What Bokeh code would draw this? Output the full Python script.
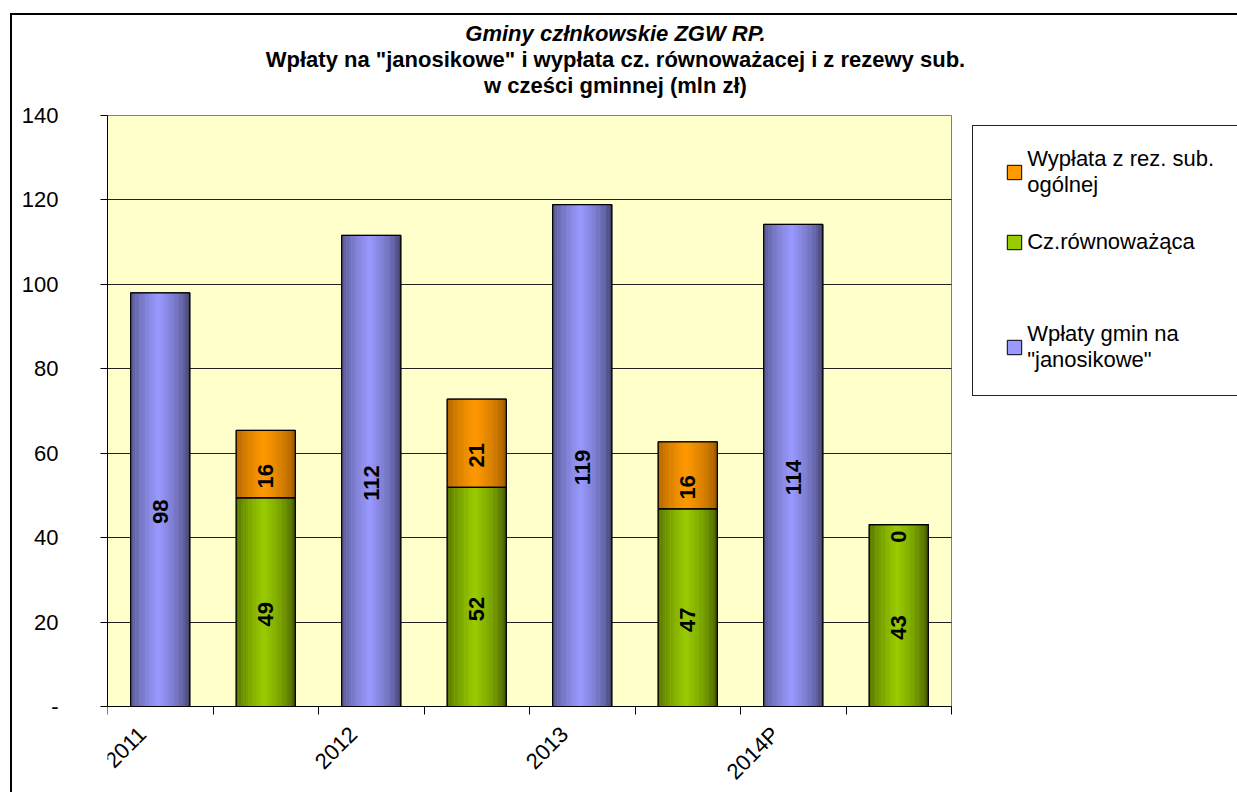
import numpy as np
from bokeh.plotting import figure
from bokeh.models import (FixedTicker, Legend, LegendItem, Label, ColumnDataSource, Range1d,
                          InlineStyleSheet)
from bokeh.core.properties import value
from bokeh.embed import file_html
from bokeh.resources import INLINE

# ---------------- data ----------------
year_labels = ["2011", "2012", "2013", "2014P"]
wplaty_gmin = [98.0, 111.6, 118.9, 114.2]        # Wpłaty gmin na "janosikowe"
cz_rownowazaca = [49.4, 51.9, 46.8, 43.1]         # Cz.równoważąca
wyplata_rez = [16.0, 20.9, 15.9, 0.0]             # Wypłata z rez. sub. ogólnej
y_ticks = [0, 20, 40, 60, 80, 100, 120, 140]

series_names = ['Wypłata z rez. sub.\nogólnej', 'Cz.równoważąca', 'Wpłaty gmin na\n"janosikowe"']
title_lines = ["Gminy człnkowskie ZGW RP.",
               'Wpłaty na "janosikowe" i wypłata cz. równoważacej i z rezewy sub.',
               "w cześci gminnej (mln zł)"]

FONT = "Liberation Sans"
n_years = len(year_labels)
n_cat = 2 * n_years
x_blue = np.arange(n_years) * 2 + 0.5
x_green = np.arange(n_years) * 2 + 1.5
BAR_W = 0.56
Y_MAX = 140

green_top = np.array(cz_rownowazaca)
orange_top = green_top + np.array(wyplata_rez)

# ---------------- layout (pixels) ----------------
W, H = 1237, 792
LEFT = 107                 # left axis panel
PLOT_W, PLOT_H = 844, 591  # yellow plot area
PLOT_TOP = 115             # from canvas top
PX_X = PLOT_W / n_cat
PX_Y = PLOT_H / Y_MAX
x_end = (W - LEFT) / PX_X
y_end = Y_MAX + PLOT_TOP / PX_Y
y_start = -(H - PLOT_TOP - PLOT_H) / PX_Y

def px_to_x(px_from_left):
    return px_from_left / PX_X

def py_to_y(py_from_top):
    return y_end - py_from_top / PX_Y

p = figure(width=W, height=H, x_range=Range1d(0, x_end), y_range=Range1d(y_start, y_end),
           output_backend="svg", toolbar_location=None, title=None,
           min_border_left=LEFT, min_border_right=0, min_border_top=0, min_border_bottom=0)
p.background_fill_color = "white"
p.border_fill_color = "white"
p.outline_line_color = None

# plot area
p.quad(left=0, right=n_cat, bottom=0, top=Y_MAX, fill_color="#FFFFCC", line_color="#808080",
       line_width=1, level="image")

# axes
p.yaxis.ticker = FixedTicker(ticks=y_ticks)
p.yaxis.bounds = (0, Y_MAX)
p.yaxis.major_label_overrides = {0: "-"}
p.yaxis.major_tick_out = 7
p.yaxis.major_tick_in = 0
p.yaxis.minor_tick_out = 0
p.yaxis.major_label_standoff = 42
p.yaxis.axis_line_color = "black"
p.yaxis.major_tick_line_color = "black"
p.yaxis.major_label_text_font = FONT
p.yaxis.major_label_text_font_size = "22px"
p.yaxis.major_label_text_color = "black"

label_pos = x_blue - 0.17
p.xaxis.fixed_location = 0
p.xaxis.bounds = (0, n_cat)
p.xaxis.ticker = FixedTicker(ticks=list(label_pos), minor_ticks=list(range(0, n_cat + 1)))
p.xaxis.major_label_overrides = {float(x): lab for x, lab in zip(label_pos, year_labels)}
p.xaxis.major_tick_out = 0
p.xaxis.major_tick_in = 0
p.xaxis.major_tick_line_alpha = 0
p.xaxis.minor_tick_out = 8
p.xaxis.minor_tick_in = 0
p.xaxis.minor_tick_line_color = "black"
p.xaxis.major_label_standoff = 16
p.xaxis.major_label_orientation = np.pi / 4
p.xaxis.axis_line_color = "black"
p.xaxis.major_label_text_font = FONT
p.xaxis.major_label_text_font_size = "22px"
p.xaxis.major_label_text_color = "black"

p.xgrid.visible = False
p.ygrid.ticker = FixedTicker(ticks=y_ticks[1:-1])
p.ygrid.grid_line_color = "#222222"
p.ygrid.grid_line_width = 1
try:
    p.ygrid.cross_bounds = (0, n_cat)
except Exception:
    p.ygrid.visible = False
    gy = y_ticks[1:-1]
    p.segment(x0=[0] * len(gy), x1=[n_cat] * len(gy), y0=gy, y1=gy, line_color="#222222",
              line_width=1, level="underlay")

# ---------------- bars with shading strips ----------------
def hex2rgb(h):
    h = h.lstrip("#")
    return np.array([int(h[i:i + 2], 16) for i in (0, 2, 4)], dtype=float)

NSTRIP = 24

def strips(xc, bottom, top, dark, light, n=NSTRIP):
    d, l = hex2rgb(dark), hex2rgb(light)
    xs, bs, ts, cs = [], [], [], []
    for k in range(n):
        t = (k + 0.5) / n
        g = np.clip(1 - abs(t - 0.47) / 0.5, 0, 1) ** 0.6
        c = d + (l - d) * g
        col = "#%02x%02x%02x" % tuple(int(round(v)) for v in c)
        for xi, bi, ti in zip(xc, bottom, top):
            xs.append(xi - BAR_W / 2 + t * BAR_W)
            bs.append(bi)
            ts.append(ti)
            cs.append(col)
    return ColumnDataSource(dict(x=xs, bottom=bs, top=ts, color=cs))

zeros = np.zeros(n_years)
r_blue = p.vbar(x=x_blue, bottom=0, top=wplaty_gmin, width=BAR_W,
                fill_color="#9999FF", line_color="black", line_width=1)
r_green = p.vbar(x=x_green, bottom=0, top=cz_rownowazaca, width=BAR_W,
                 fill_color="#99CC00", line_color="black", line_width=1)
r_orange = p.vbar(x=x_green, bottom=green_top, top=orange_top, width=BAR_W,
                  fill_color="#FF9900", line_color="black", line_width=1)

for src in (strips(x_blue, zeros, wplaty_gmin, "#44446f", "#9999ff"),
            strips(x_green, zeros, cz_rownowazaca, "#445a00", "#99cc00"),
            strips(x_green, green_top, orange_top, "#9c5900", "#ff9900")):
    p.vbar(x="x", bottom="bottom", top="top", width=BAR_W / NSTRIP * 1.08, source=src,
           fill_color="color", line_color=None)

p.vbar(x=x_blue, bottom=0, top=wplaty_gmin, width=BAR_W, fill_alpha=0, line_color="black", line_width=1.2)
p.vbar(x=x_green, bottom=0, top=cz_rownowazaca, width=BAR_W, fill_alpha=0, line_color="black", line_width=1.2)
p.vbar(x=x_green, bottom=green_top, top=orange_top, width=BAR_W, fill_alpha=0, line_color="black", line_width=1.2)

# ---------------- value labels ----------------
lab_x = list(x_blue) + list(x_green) + list(x_green)
lab_y = list(np.array(wplaty_gmin) / 2) + list(green_top / 2) + list((green_top + orange_top) / 2)
lab_t = [f"{v:.0f}" for v in wplaty_gmin] + [f"{v:.0f}" for v in cz_rownowazaca] + [f"{v:.0f}" for v in wyplata_rez]
p.text(x=lab_x, y=lab_y, text=lab_t, angle=np.pi / 2, text_align="center", text_baseline="middle",
       y_offset=12, text_font=value(FONT), text_font_size="22px", text_font_style="bold", text_color="black")

# ---------------- title ----------------
title_styles = ["bold italic", "bold", "bold"]
title_centers_y = [33, 59, 85]       # px from canvas top
TITLE_CX = 508                        # px from plot-area left
for txt, style, cy in zip(title_lines, title_styles, title_centers_y):
    p.add_layout(Label(x=px_to_x(TITLE_CX), y=py_to_y(cy), text=txt, text_align="center",
                       text_baseline="middle", text_font=FONT, text_font_size="22px",
                       text_font_style=style, text_color="black"))

# ---------------- legend (one box per entry, positioned like the original) ----------------
legend_bottoms = [198, 255, 373]      # px from canvas top
for name, rend, b in zip(series_names, [r_orange, r_green, r_blue], legend_bottoms):
    lg = Legend(items=[LegendItem(label=name, renderers=[rend])], location=(898.2, H - b),
                padding=0, margin=0, spacing=0, border_line_alpha=0, background_fill_alpha=0,
                glyph_width=18, glyph_height=18, label_standoff=4, label_height=18,
                label_text_font=FONT, label_text_font_size="22px", label_text_line_height=0.9,
                label_text_color="black")
    p.add_layout(lg, "center")

# ---------------- chart-area frame and legend box ----------------
p.stylesheets = [InlineStyleSheet(css="""
:host::after { content: ""; position: absolute; left: 10px; top: 13px; right: 0; bottom: 0;
  border-left: 2.5px solid black; border-top: 2.5px solid black; pointer-events: none; z-index: 10; }
:host::before { content: ""; position: absolute; left: 972px; top: 125px; right: 0; height: 269px;
  border: 1px solid #222222; border-right: none; pointer-events: none; z-index: 10; }
""")]

open("out.html", "w").write(file_html(p, INLINE))
